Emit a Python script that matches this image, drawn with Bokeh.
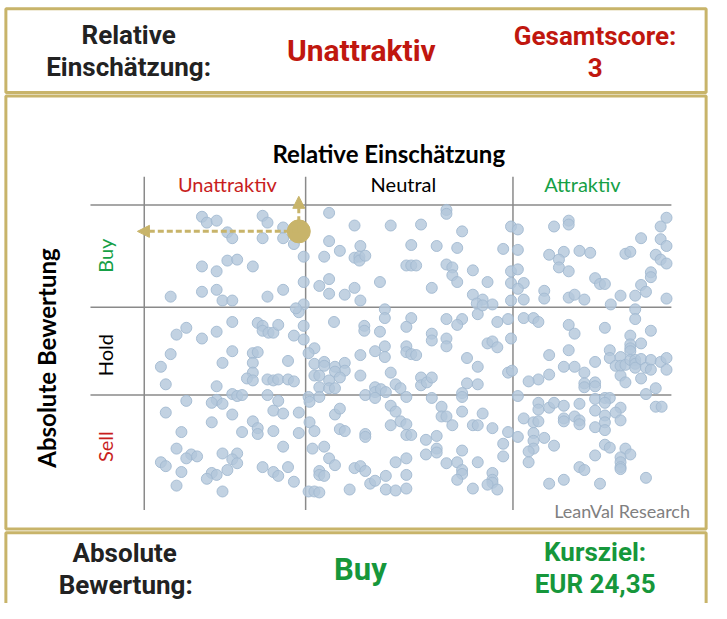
from bokeh.plotting import figure
from bokeh.models import Range1d, Label, Arrow, NormalHead
from bokeh.embed import file_html
from bokeh.resources import INLINE

# ---------------- data ----------------
# grid boundaries in score units (x: relative score, y: absolute score)
GRID_X = [0.0, 16.5, 37.7, 53.9]     # Unattraktiv | Neutral | Attraktiv
GRID_Y = [0.0, 11.8, 20.8, 31.3]     # Sell | Hold | Buy
col_labels = ["Unattraktiv", "Neutral", "Attraktiv"]
row_labels = ["Buy", "Hold", "Sell"]

# peer universe, column "Unattraktiv"
unattr_x = [5.9, 6.4, 7.4, 12.1, 12.6, 8.5, 9.0, 12.1, 14.2, 14.2, 15.3, 16.3, 8.5, 9.5, 5.9, 7.4, 11.1, 16.3, 5.9, 7.4,
            14.2, 2.7, 8.0, 9.0, 12.6, 16.3,
            15.8, 15.5, 16.3, 9.0, 4.3, 3.3, 5.9, 7.4, 11.6, 12.1, 12.1, 12.7, 13.2, 13.7, 15.3, 16.3, 2.7, 9.0, 11.1, 11.6,
            8.0, 11.1, 14.7, 1.7, 11.1, 10.5, 11.1, 12.6, 13.2, 13.7, 14.7, 15.3, 2.2, 7.4, 9.0, 9.5, 10.0, 12.6,
            13.7, 4.3, 7.4, 6.9, 8.0, 13.2, 14.2, 15.8, 2.2, 9.0, 6.9, 11.1, 11.6, 11.6, 13.2, 15.8, 3.8, 10.0, 3.3, 14.2,
            4.8, 4.3, 5.4, 8.0, 9.5, 9.0, 9.5, 1.7, 2.2, 3.8, 8.5, 6.9, 7.4, 6.4, 12.1, 13.2, 13.7, 14.7, 15.3, 3.3, 8.0]
unattr_y = [30.1, 29.5, 29.7, 30.2, 29.5, 28.5, 27.9, 27.9, 29.0, 27.9, 27.3, 26.0, 25.6, 25.7, 25.0, 24.5, 25.0, 23.4, 22.4, 22.6,
            22.6, 21.9, 21.5, 21.5, 21.9, 21.1,
            20.3, 20.7, 18.9, 19.3, 18.7, 18.0, 17.6, 18.3, 19.2, 18.9, 18.4, 18.2, 18.2, 19.0, 17.9, 17.5, 16.0, 16.3, 16.1, 16.2,
            15.1, 15.1, 15.3, 14.7, 14.1, 13.5, 13.3, 13.4, 13.3, 13.4, 13.4, 13.2, 12.9, 12.7, 11.9, 11.7, 11.8, 11.8,
            11.2, 11.2, 11.3, 11.0, 10.9, 10.2, 9.9, 10.0, 10.0, 9.8, 9.0, 9.1, 8.4, 7.8, 8.1, 7.9, 8.0, 8.0, 6.3, 6.5,
            5.7, 5.3, 5.5, 5.8, 5.8, 5.2, 4.8, 4.9, 4.5, 3.9, 4.1, 3.8, 3.6, 3.2, 4.4, 3.9, 3.5, 4.4, 2.9, 2.5, 1.9]

# column "Neutral"
neutral_x = [18.9, 21.5, 25.2, 28.3, 30.9, 30.9, 32.5, 37.5, 18.9, 20.0, 22.1, 27.3, 29.9, 32.0, 36.7, 18.4, 21.5, 22.0, 22.0, 22.6,
             26.8, 27.3, 27.8, 30.9, 31.5, 31.5, 33.6, 37.5, 32.0, 35.1, 37.5, 17.9, 18.9, 24.1, 21.5, 29.4, 18.9, 20.5, 22.1, 33.6,
             34.6, 34.0, 35.6, 37.5,
             24.6, 24.6, 27.3, 26.8, 19.4, 22.5, 22.5, 24.1, 30.9, 32.5, 32.0, 34.1, 34.6, 36.1, 37.2, 29.4, 29.4, 30.9, 30.9, 35.1,
             35.6, 36.1, 37.5, 17.4, 16.8, 22.1, 23.6, 24.6, 24.6, 26.8, 26.8, 27.3, 27.8, 17.4, 18.4, 18.4, 19.5, 20.5, 20.5, 19.5,
             20.0, 22.1, 25.2, 33.0, 34.1, 37.2, 17.4, 17.9, 17.9, 18.9, 18.9, 19.5, 16.8, 17.9, 25.7, 26.2, 28.3, 28.3, 28.9, 29.4,
             33.0, 34.1, 32.5, 22.6, 23.6, 23.6, 24.2, 24.7, 26.8, 29.4,
             16.9, 23.6, 32.5, 16.9, 17.4, 19.5, 20.0, 20.0, 20.5, 22.6, 22.6, 25.2, 25.7, 25.2, 26.2, 26.8, 26.8, 27.3, 30.4, 30.4,
             30.9, 31.5, 32.5, 34.6, 33.6, 34.1, 35.6, 37.2, 36.7, 36.7, 28.8, 29.9, 29.9, 29.9, 28.8, 32.5, 17.2, 18.4, 18.9, 19.5,
             17.9, 17.9, 18.4, 21.5, 22.1, 22.6, 25.7, 26.8, 30.9, 32.0, 32.5, 32.5, 34.1, 35.6, 35.6, 35.6, 35.1, 36.1, 32.0, 33.6,
             23.1, 23.6, 24.7, 24.7, 25.7, 26.8, 26.8, 21.0, 16.8, 17.4, 17.9]
neutral_y = [30.5, 29.2, 29.2, 29.3, 30.8, 30.4, 28.6, 29.1, 27.6, 26.6, 27.1, 27.2, 27.1, 26.9, 26.8, 26.0, 25.9, 26.0, 25.6, 26.1,
             25.1, 25.1, 25.1, 25.2, 24.9, 24.1, 24.6, 24.5, 23.4, 23.4, 23.3, 23.0, 23.7, 23.4, 22.8, 22.8, 22.2, 22.1, 21.5, 22.1,
             21.6, 21.2, 21.1, 21.5,
             20.6, 19.7, 19.7, 18.8, 19.3, 18.9, 18.4, 18.3, 19.6, 19.6, 19.0, 20.1, 21.0, 19.3, 19.6, 18.1, 17.4, 17.6, 16.8, 17.1,
             17.3, 16.7, 17.6, 16.6, 16.1, 15.9, 16.3, 16.8, 15.7, 16.8, 16.2, 16.0, 15.9, 15.0, 15.2, 14.8, 14.7, 15.1, 14.3, 14.2,
             13.6, 13.8, 14.1, 15.6, 14.7, 14.1, 13.8, 13.8, 12.6, 13.3, 12.5, 12.5, 11.6, 11.6, 12.9, 12.5, 13.6, 12.8, 13.1, 13.6,
             13.0, 12.9, 12.0, 11.8, 12.6, 12.1, 12.4, 12.1, 11.6, 11.5,
             11.1, 11.5, 11.6, 9.0, 8.1, 9.8, 10.4, 8.3, 8.1, 7.8, 7.5, 10.7, 10.1, 8.7, 9.1, 8.8, 7.7, 7.7, 10.6, 9.6,
             9.6, 8.7, 10.1, 9.9, 8.7, 8.7, 8.4, 8.0, 6.8, 5.5, 7.2, 7.6, 6.3, 5.9, 5.7, 6.1, 6.3, 6.5, 5.3, 4.6,
             4.0, 3.6, 3.5, 4.3, 4.5, 4.0, 4.9, 5.3, 4.8, 4.9, 4.1, 3.7, 4.9, 3.8, 3.1, 2.8, 2.6, 2.1, 3.1, 2.2,
             2.7, 3.0, 3.5, 2.1, 2.0, 3.6, 2.2, 2.1, 1.9, 1.9, 1.8]

# column "Attraktiv"
attr_x = [38.2, 41.9, 43.4, 43.4, 53.4, 52.8, 50.8, 52.8, 53.4, 38.2, 41.4, 42.9, 44.5, 45.6, 49.2, 49.7, 52.3, 52.8, 53.4, 42.4,
          42.4, 43.4, 38.2, 51.8, 51.8, 46.1, 46.6, 47.1, 38.8, 38.2, 40.9, 40.9, 43.4, 44.0, 45.0, 48.7, 50.2, 50.8, 51.3, 53.4,
          38.8, 47.7,
          50.2, 50.2, 38.8, 39.8, 40.3, 43.4, 44.0, 47.1, 51.8, 49.7, 50.8, 49.7, 49.7, 49.7, 43.4, 47.6, 47.6, 41.4, 48.7, 48.2,
          48.7, 49.2, 49.7, 50.2, 50.2, 50.2, 50.8, 51.3, 51.8, 51.8, 52.8, 53.4, 53.4, 46.1, 42.9, 44.0, 45.0, 48.7, 49.2, 50.8,
          41.4, 40.3, 39.3, 45.0, 45.0, 46.1, 46.1, 52.3, 51.3, 38.2, 46.1, 47.1, 47.6, 37.6,
          40.3, 40.3, 41.4, 41.9, 42.9, 44.5, 46.1, 47.1, 48.7, 48.2, 52.3, 52.9, 38.8, 39.8, 40.3, 42.9, 42.9, 44.0, 44.5, 44.5,
          46.1, 47.1, 47.1, 48.7, 47.1, 38.2, 39.8, 39.8, 39.8, 39.3, 39.3, 40.9, 41.9, 47.1, 47.6, 49.2, 49.7, 48.7, 48.7, 48.7,
          48.7, 46.1, 44.5, 45.0, 51.3, 41.4, 42.9, 46.6]
attr_y = [28.8, 29.1, 29.7, 29.3, 30.0, 29.1, 27.9, 27.8, 27.1, 26.7, 26.2, 26.5, 26.6, 26.4, 26.3, 26.5, 26.2, 25.7, 25.3, 25.7,
          24.9, 24.5, 24.7, 24.4, 23.9, 23.8, 23.2, 23.2, 23.3, 22.7, 22.5, 21.7, 21.8, 22.1, 21.6, 22.0, 22.0, 23.1, 22.4, 21.7,
          21.6, 21.1,
          20.6, 19.6, 19.7, 19.7, 19.3, 19.0, 18.1, 18.7, 18.4, 17.9, 17.1, 17.0, 16.6, 16.3, 16.4, 16.4, 15.6, 15.9, 15.7, 14.8,
          14.8, 14.9, 15.4, 15.4, 15.0, 14.6, 15.5, 14.6, 15.4, 14.4, 15.2, 15.6, 14.4, 15.2, 14.7, 14.7, 14.1, 13.8, 13.1, 13.5,
          13.9, 13.4, 13.2, 13.0, 12.6, 13.1, 12.7, 12.5, 11.9, 11.7, 11.4, 11.5, 11.5, 14.3,
          11.0, 10.3, 10.5, 11.0, 10.7, 10.9, 10.2, 11.0, 10.5, 10.0, 10.6, 10.6, 9.4, 9.0, 9.1, 9.4, 9.1, 9.6, 9.2, 8.8,
          8.5, 9.7, 9.0, 9.2, 8.2, 7.5, 7.9, 7.1, 6.3, 6.0, 4.9, 7.4, 6.6, 6.7, 6.4, 6.3, 5.7, 5.4, 4.9, 4.4,
          4.2, 5.6, 4.4, 4.1, 3.3, 2.7, 3.1, 2.7]

# the analysed company
company_x = [15.8]
company_y = [28.6]

# ---------------- layout / style ----------------
GOLD = "#c8b46a"
GRID = "#8a8a8a"
RED_H = "#c0170f"
GREEN_H = "#16973b"
RED_C = "#c81e1e"
GREEN_C = "#16a046"
DARK = "#222222"
W, H = 711, 603            # figure size in pixels
RW, RH = 727, 619          # layout design space (reference canvas)

p = figure(width=W, height=H, output_backend="svg", toolbar_location=None,
           x_range=Range1d(0, RW), y_range=Range1d(RH, 0),
           x_axis_type=None, y_axis_type=None, min_border=0,
           outline_line_color=None, background_fill_color="white")
p.grid.visible = False

# score space anchored to the grid position in layout space
PX0, PX1 = 147, 686
PY0, PY1 = 523, 210
def sx(px):
    return GRID_X[0] + (px - PX0) * (GRID_X[-1] - GRID_X[0]) / (PX1 - PX0)
def sy(py):
    return GRID_Y[0] + (py - PY0) * (GRID_Y[-1] - GRID_Y[0]) / (PY1 - PY0)
p.extra_x_ranges = {"s": Range1d(sx(0), sx(RW))}
p.extra_y_ranges = {"s": Range1d(sy(RH), sy(0))}

# gold frames
p.quad(left=[5.5] * 3, right=[721.5] * 3, top=[8.5, 98, 546.5], bottom=[94.5, 542.5, 680],
       fill_color=None, line_color=GOLD, line_width=3)

def lab(x, y, text, size, color=DARK, bold=False, font="Roboto", align="center", angle=0):
    p.add_layout(Label(x=x, y=y, text=text, text_font=font, text_font_size=f"{size}px",
                       text_font_style="bold" if bold else "normal", text_color=color,
                       text_align=align, text_baseline="middle", angle=angle, angle_units="deg"))

# header
lab(131, 35, "Relative", 26, bold=True)
lab(131, 68, "Einschätzung:", 26, bold=True)
lab(369, 51, col_labels[0], 30, RED_H, bold=True)
lab(608, 36, "Gesamtscore:", 26, RED_H, bold=True)
lab(608, 69, "3", 26, RED_H, bold=True)

# footer
lab(127, 567, "Absolute", 26, bold=True)
lab(128, 600, "Bewertung:", 26, bold=True)
lab(368, 584, row_labels[0], 31, GREEN_H, bold=True)
lab(608, 566, "Kursziel:", 26, GREEN_H, bold=True)
lab(608, 599, "EUR 24,35", 26, GREEN_H, bold=True)

# chart titles
CF = "Lato"
lab(397, 157, "Relative Einschätzung", 24, "black", bold=True, font=CF)
lab(232, 188, col_labels[0], 20, RED_C, font=CF)
lab(412, 188, col_labels[1], 20, "black", font=CF)
lab(595, 188, col_labels[2], 20, GREEN_C, font=CF)
lab(107, 262, row_labels[0], 20, GREEN_C, font=CF, angle=90)
lab(107, 364, row_labels[1], 20, "black", font=CF, angle=90)
lab(107, 458, row_labels[2], 20, RED_C, font=CF, angle=90)
lab(47, 367, "Absolute Bewertung", 24, "black", bold=True, font=CF, angle=90)
lab(705, 524, "LeanVal Research", 18, "#808080", font=CF, align="right")

# grid lines (score space)
hy = GRID_Y[1:]
p.segment(x0=[sx(92)] * 3, x1=[GRID_X[-1]] * 3, y0=hy, y1=hy, line_color=GRID, line_width=1.5,
          x_range_name="s", y_range_name="s")
vx = GRID_X[:3]
p.segment(x0=vx, x1=vx, y0=[GRID_Y[0]] * 3, y1=[sy(181)] * 3, line_color=GRID, line_width=1.5,
          x_range_name="s", y_range_name="s")

# peer points
all_x = unattr_x + neutral_x + attr_x
all_y = unattr_y + neutral_y + attr_y
p.scatter(all_x, all_y, size=11, fill_color="#b3c7db", fill_alpha=0.8,
          line_color="#a2b9d0", line_alpha=0.9, line_width=1,
          x_range_name="s", y_range_name="s")

# company marker and arrows
for xe, ye in [(sx(140), company_y[0]), (company_x[0], sy(201))]:
    p.add_layout(Arrow(end=NormalHead(size=12, fill_color=GOLD, line_color=GOLD),
                       x_start=company_x[0], y_start=company_y[0], x_end=xe, y_end=ye,
                       line_color=GOLD, line_width=3, line_dash="6 3",
                       x_range_name="s", y_range_name="s"))
p.scatter(company_x, company_y, size=23, fill_color=GOLD, line_color=GOLD,
          x_range_name="s", y_range_name="s")

open("out.html", "w").write(file_html(p, INLINE))
